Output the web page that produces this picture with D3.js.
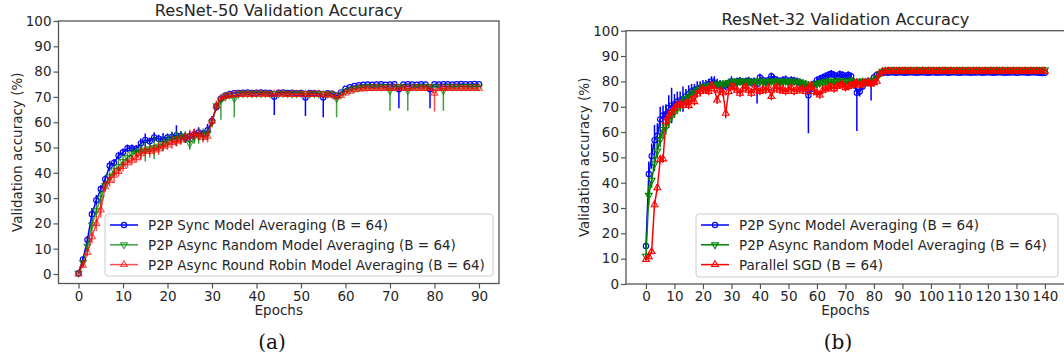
<!DOCTYPE html>
<html>
<head>
<meta charset="utf-8">
<script src="https://cdn.jsdelivr.net/npm/d3@7"></script>
<style>
  body { margin: 0; background: #fff; }
  svg { display: block; }
  text { font-family: "DejaVu Sans", sans-serif; fill: #262626; }
  text.caption { font-family: "DejaVu Serif", serif; fill: #111; }
</style>
</head>
<body>
<svg id="chart" width="1064" height="358"></svg>
<script>
// ---------- ResNet-50 (a) ----------
const xTicks50 = [0, 10, 20, 30, 40, 50, 60, 70, 80, 90];
const yTicks = [0, 10, 20, 30, 40, 50, 60, 70, 80, 90, 100];

const sync50 = [0.3, 5.8, 13.5, 23.6, 29.2, 33.6, 37.5, 42.8, 44, 46.8,
  48.1, 49.7, 49.7, 49.5, 51.6, 53, 52.5, 54, 53.5, 53.2,
  54, 54.2, 54.8, 54.5, 53.8, 54.5, 55.2, 56, 55.5, 56.8,
  60.5, 66, 69.3, 70.6, 71.2, 71.5, 71.6, 71.7, 71.8, 71.6,
  71.7, 71.8, 71.7, 71.6, 70.1, 71.7, 71.8, 71.6, 71.7, 71.5,
  71.6, 69.8, 71.6, 71.5, 71.4, 69.8, 71.5, 71.3, 70.5, 71.8,
  73.2, 73.8, 74.3, 74.6, 74.8, 74.9, 74.8, 74.9, 75, 74.8,
  74.9, 75, 73, 74.9, 75, 74.9, 74.8, 75, 74.9, 73,
  75, 74.9, 75, 75, 74.9, 75, 75.1, 75, 75, 75.1,
  75];
const green50 = [0.3, 4.5, 11, 19.5, 25, 30, 35, 38.5, 41, 42.5,
  44.5, 46, 47.5, 48, 48.5, 49, 49.5, 50, 50.5, 51.5,
  52.5, 53.5, 53.5, 54, 54.5, 51.6, 54, 54.5, 55, 55.5,
  60, 66.5, 68.8, 70, 70.8, 69.4, 71.2, 71.3, 71.4, 71.3,
  71.4, 71.3, 71.4, 71.3, 71.2, 71.3, 71.4, 71.3, 71.2, 71.3,
  71.4, 71.3, 71.2, 71.3, 71.2, 71.1, 71.2, 71.0, 69.4, 71,
  72.2, 72.8, 73.3, 73.7, 73.9, 74, 74, 74.1, 74, 74.1,
  72.5, 74, 74.1, 74, 72.5, 74.1, 74, 74.1, 74, 74.1,
  74, 74, 72.5, 74.1, 74, 74.1, 74, 74.1, 74, 74.1,
  74];
const red50 = [0, 3.5, 8.5, 14.7, 20, 25.3, 34.5, 37, 39, 40.5,
  42.5, 44, 45, 46, 47.5, 48.5, 48.5, 49, 49.5, 50.5,
  51, 52, 52.5, 53, 54, 54.5, 55.5, 55, 54, 54.5,
  60.5, 66.5, 69.5, 70.2, 70.6, 70.8, 71, 71.1, 71.1, 71,
  71.1, 71.2, 71.1, 71, 71.1, 71.2, 71.1, 71, 71.1, 71,
  71.1, 71, 71, 71.1, 71, 70.9, 70.8, 70.8, 70, 70.6,
  71.5, 72.2, 72.8, 73.1, 73.2, 73.3, 73.3, 73.4, 73.3, 73.4,
  73.3, 73.4, 73.3, 73.4, 73.3, 73.4, 73.3, 73.4, 73.3, 73.4,
  71.4, 73.3, 73.4, 73.3, 73.4, 73.3, 73.4, 73.3, 73.4, 73.3,
  73.4];

// half-width of the error bars (later epochs are too tight to show)
const syncErr50 = [0.3, 1, 1.5, 2.5, 2, 1.5, 1.5, 2, 1.5, 1.5, 1.5, 1.5, 1.5, 1.5, 2, 2.5, 1.5, 2,
  1.5, 2.5, 1.5, 2, 4, 2, 2, 2, 2, 2, 1.5, 2.5, 2, 1.5, 1, 0.8];
const greenErr50 = [0.3, 1, 2, 2.5, 2.5, 3, 2, 2, 2.5, 3, 2.5, 2, 2.5, 2, 3, 4.5, 2.5, 4.5,
  2.5, 3, 2.5, 2.5, 3, 2.5, 2, 2.5, 2.5, 3, 2.5, 2.5, 2, 1.5, 1, 0.8];
const redErr50 = [0.3, 1, 1.5, 2.5, 3, 3, 2, 2.5, 3, 2, 2, 2, 2, 2, 2.5, 2, 2.5, 2,
  2.5, 2, 2, 2.5, 2, 2, 2, 2.5, 2, 2, 2, 2.5, 2, 2, 1, 0.8];

// [epoch, lowest run] where one run dropped
const syncDips50 = [[44, 62.8], [51, 62.5], [55, 62], [72, 65.5], [79, 65.5]];
const greenDips50 = [[32, 61], [35, 62], [58, 62], [70, 64.5], [74, 64.5], [82, 64.5]];
const redDips50 = [[80, 64.2]];

const labels50 = ['P2P Sync Model Averaging (B = 64)',
  'P2P Async Random Model Averaging (B = 64)',
  'P2P Async Round Robin Model Averaging (B = 64)'];

// ---------- ResNet-32 (b) ----------
const xTicks32 = [0, 10, 20, 30, 40, 50, 60, 70, 80, 90, 100, 110, 120, 130, 140];

const sync32 = [15, 43.4, 50.5, 56.8, 58.5, 65, 66.5, 67, 69.5, 70.5,
  71, 72, 72.5, 73, 74, 75, 76, 76.5, 77, 77.5,
  78, 78.5, 79, 80, 79.5, 79, 78.5, 78, 78.5, 79,
  80, 79.5, 80, 80.2, 79.8, 80, 80.3, 79.5, 80, 79,
  81.5, 80.5, 80, 80.5, 82, 81, 80.5, 80, 80.5, 80.8,
  80, 80.5, 80.3, 80, 79.5, 79, 77.5, 74.5, 77, 79,
  80.5, 81, 81.5, 82, 82.5, 83, 82.5, 82, 82.8, 82.5,
  82, 82.5, 82, 79, 75.5, 76, 78, 79.5, 80, 79.5,
  81.5, 82.5, 83, 83.3, 83.5, 83.4, 83.6, 83.5, 83.4, 83.6,
  83.5, 83.4, 83.5, 83.6, 83.5, 83.4, 83.5, 83.6, 83.5, 83.4,
  83.5, 83.6, 83.4, 83.5, 83.5, 83.6, 83.4, 83.5, 83.6, 83.5,
  83.4, 83.5, 83.6, 83.5, 83.4, 83.5, 83.5, 83.6, 83.4, 83.5,
  83.6, 83.5, 83.4, 83.5, 83.6, 83.5, 83.4, 83.5, 83.5, 83.6,
  83.4, 83.5, 83.6, 83.5, 83.4, 83.5, 83.6, 83.5, 83.4, 83.3,
  83.4];
const green32 = [11, 35, 41, 47.5, 52.5, 57, 61, 62, 64.5, 66.5,
  68, 69.5, 70.5, 72, 73, 74, 75, 75.5, 76.5, 77,
  77.5, 78, 78, 78.5, 78.5, 79, 78.5, 79, 79, 79.5,
  79.5, 79.8, 79.5, 80, 79.7, 79.5, 80, 79.8, 79.5, 80,
  79.8, 80, 79.5, 79.8, 80, 79.7, 80, 79.5, 79.8, 80,
  79.6, 79.8, 80, 79.5, 79.7, 79.2, 79, 78.5, 78, 78.5,
  79, 79.3, 79.5, 79.8, 80, 79.7, 80, 79.8, 80.2, 80,
  79.8, 80, 80.2, 79.8, 79.5, 79.8, 80, 79.5, 79.8, 80,
  80.5, 81.5, 83, 84, 84.4, 84.5, 84.6, 84.5, 84.6, 84.5,
  84.6, 84.5, 84.6, 84.7, 84.5, 84.6, 84.5, 84.6, 84.5, 84.6,
  84.7, 84.5, 84.6, 84.5, 84.6, 84.5, 84.7, 84.6, 84.5, 84.6,
  84.5, 84.6, 84.5, 84.7, 84.6, 84.5, 84.6, 84.5, 84.6, 84.5,
  84.6, 84.7, 84.5, 84.6, 84.5, 84.6, 84.5, 84.6, 84.7, 84.5,
  84.6, 84.5, 84.6, 84.5, 84.6, 84.5, 84.7, 84.6, 84.5, 84.6,
  84.5];
const sgd32 = [9.7, 10.8, 12.8, 31.3, 38, 49.2, 49.4, 64.3, 66.5, 68,
  69.5, 70.7, 71, 70.5, 71.5, 70.5, 73, 72, 75, 76,
  77, 76.5, 76, 78.5, 77, 72.6, 76.5, 75.5, 67.4, 76,
  78, 77.5, 76.5, 75.3, 77, 78, 76.5, 75.3, 77.5, 76.5,
  76, 77, 76.5, 77.5, 74, 77, 78, 76.5, 77, 76,
  76.6, 77.5, 76, 77, 76.6, 77, 76, 77.5, 78.5, 76,
  75.5, 74.6, 76.5, 77, 77.4, 78, 77, 78, 78.5, 78.8,
  77.5, 78, 78.5, 79, 79.5, 78.5, 79, 79.5, 79.8, 79,
  79.5, 80, 83, 83.8, 84, 84.1, 84, 84.1, 84, 84.1,
  84, 84.1, 84, 84.1, 84, 84.1, 84, 84.1, 84, 84.1,
  84, 84.1, 84, 84.1, 84, 84.1, 84, 84.1, 84, 84.1,
  84, 84.1, 84, 84.1, 84, 84.1, 84, 84.1, 84, 84.1,
  84, 84.1, 84, 84.1, 84, 84.1, 84, 84.1, 84, 84.1,
  84, 84.1, 84, 84.1, 84, 84.1, 84, 84.1, 84, 84.1,
  84];

const syncErr32 = [1, 5, 5, 6, 5, 5, 4, 4, 5, 7,
  4, 4, 3.5, 5, 3, 3.5, 3, 2.5, 3, 2.5,
  2.5, 2, 2, 2, 2.5, 2, 2, 2, 2, 2,
  2, 1.5, 1.5, 1.5, 1.5, 1.5, 1.5, 1.5, 1.5, 1.5,
  1.5, 1.5, 1.5, 1.5, 1.5, 1.5, 1.5, 1.5, 1.5, 1.5,
  1.5, 1.5, 1.5, 1.5, 1.5, 1.5, 2, 2, 2, 1.5,
  1.5, 1.5, 1.5, 1.5, 1.5, 1.5, 1.5, 1.5, 1.5, 1.5,
  1.5, 1.5, 1.5, 2, 2, 2, 1.5, 1.5, 1.5, 1.5,
  1.5, 1, 1];
const greenErr32 = [1, 4, 3, 3, 3, 3, 3, 3, 3, 2.5,
  2.5, 2.5, 2.5, 2, 2, 2, 2, 2, 2, 2,
  2, 2, 1.5, 1.5, 1.5, 1.5, 1.5, 1.5, 1.5, 1.5,
  1.5, 1.5, 1.5, 1.5, 1.5, 1.5, 1.5, 1.5, 1.5, 1.5,
  1.5, 1.5, 1.5, 1.5, 1.5, 1.5, 1.5, 1.5, 1.5, 1.5,
  1.5, 1.5, 1.5, 1.5, 1.5, 1.5, 1.5, 1.5, 1.5, 1.5,
  1.5, 1.5, 1.5, 1.5, 1.5, 1.5, 1.5, 1.5, 1.5, 1.5,
  1.5, 1.5, 1.5, 1.5, 1.5, 1.5, 1.5, 1.5, 1.5, 1.5,
  1.5, 1, 1];
const sgdErr32 = [0.5, 0.8, 1, 1.5, 1.5, 1.5, 1.5, 2, 2, 1.5,
  1.5, 1.5, 1.5, 1.5, 1.5, 1.5, 1.5, 1.5, 1.5, 1.5,
  1.5, 1.5, 1.5, 1.5, 1.5, 1.5, 1.5, 1.5, 2, 1.5,
  1.5, 1.5, 1.5, 1.5, 1.5, 1.5, 1.5, 1.5, 1.5, 1.5,
  1.5, 1.5, 1.5, 1.5, 1.5, 1.5, 1.5, 1.5, 1.5, 1.5,
  1.5, 1.5, 1.5, 1.5, 1.5, 1.5, 1.5, 1.5, 1.5, 1.5,
  1.5, 1.5, 1.5, 1.5, 1.5, 1.5, 1.5, 1.5, 1.5, 1.5,
  1.5, 1.5, 1.5, 1.5, 1.5, 1.5, 1.5, 1.5, 1.5, 1.5,
  1.5, 1, 1];

const syncDips32 = [[39, 71.3], [57, 59.5], [74, 60.4], [79, 72.4]];

const labels32 = ['P2P Sync Model Averaging (B = 64)',
  'P2P Async Random Model Averaging (B = 64)',
  'Parallel SGD (B = 64)'];

// ---------- drawing ----------
const svg = d3.select('#chart');
const BLUE = '#0000ff', GREEN = '#008000', RED = '#ff0000';

function markerPath(kind) {
    if (kind === 'circle') return d3.symbol().type(d3.symbolCircle).size(22)();
    return d3.symbol().type(d3.symbolTriangle).size(20)();
}

function drawMarker(g, kind, cx, cy, color, alpha) {
    let rot = kind === 'down' ? 180 : 0;
    g.append('path')
        .attr('d', markerPath(kind))
        .attr('transform', `translate(${cx},${cy}) rotate(${rot})`)
        .attr('fill', 'none')
        .attr('stroke', color)
        .attr('stroke-opacity', alpha)
        .attr('stroke-width', 1.1);
}

function drawPanel(p) {
    let x = d3.scaleLinear().domain(p.xDomain).range([p.left, p.right]);
    let y = d3.scaleLinear().domain(p.yDomain).range([p.bottom, p.top]);
    let g = svg.append('g');

    g.append('clipPath').attr('id', 'clip-' + p.id)
        .append('rect')
        .attr('x', p.left).attr('y', p.top)
        .attr('width', p.right - p.left).attr('height', p.bottom - p.top);

    let plot = g.append('g').attr('clip-path', `url(#clip-${p.id})`);

    let line = d3.line()
        .x(function(d, i) { return x(i); })
        .y(function(d) { return y(d); });

    p.series.forEach(function(s) {
        let sg = plot.append('g');
        let dips = new Map(s.dips);

        // error bars
        s.values.forEach(function(v, i) {
            let e = s.err[i] || 0;
            let lo = v - e, hi = v + e;
            if (dips.has(i)) lo = Math.min(lo, dips.get(i));
            if (hi - lo < 0.3) return;
            sg.append('line')
                .attr('x1', x(i)).attr('x2', x(i))
                .attr('y1', y(lo)).attr('y2', y(hi))
                .attr('stroke', s.color)
                .attr('stroke-opacity', s.alpha)
                .attr('stroke-width', 1.5);
        });

        sg.append('path')
            .attr('d', line(s.values))
            .attr('fill', 'none')
            .attr('stroke', s.color)
            .attr('stroke-opacity', s.alpha)
            .attr('stroke-width', 1.5);

        s.values.forEach(function(v, i) {
            drawMarker(sg, s.marker, x(i), y(v), s.color, s.alpha);
        });
    });

    // axes
    let xAxis = d3.axisBottom(x).tickValues(p.xTicks).tickSize(5).tickPadding(2.5);
    let yAxis = d3.axisLeft(y).tickValues(yTicks).tickSize(5).tickPadding(2);

    let gx = g.append('g').attr('transform', `translate(0,${p.bottom})`).call(xAxis);
    let gy = g.append('g').attr('transform', `translate(${p.left},0)`).call(yAxis);
    [gx, gy].forEach(function(a) {
        a.select('.domain').remove();
        a.selectAll('line').attr('stroke', '#555').attr('stroke-width', 1.2);
        a.selectAll('text')
            .attr('font-family', '"DejaVu Sans", sans-serif')
            .attr('font-size', '13.5px')
            .attr('fill', '#262626');
    });

    g.append('rect')
        .attr('x', p.left).attr('y', p.top)
        .attr('width', p.right - p.left).attr('height', p.bottom - p.top)
        .attr('fill', 'none')
        .attr('stroke', '#555')
        .attr('stroke-width', 1.3);

    // titles and labels
    let cx = (p.left + p.right) / 2;
    g.append('text')
        .attr('x', cx).attr('y', p.titleY)
        .attr('text-anchor', 'middle')
        .attr('font-size', '16.2px')
        .text(p.title);

    g.append('text')
        .attr('x', cx).attr('y', 315)
        .attr('text-anchor', 'middle')
        .attr('font-size', '13.5px')
        .text('Epochs');

    g.append('text')
        .attr('transform', `translate(${p.ylabelX},${(p.top + p.bottom) / 2}) rotate(-90)`)
        .attr('text-anchor', 'middle')
        .attr('font-size', '13.5px')
        .text('Validation accuracy (%)');

    g.append('text')
        .attr('class', 'caption')
        .attr('x', p.captionX).attr('y', 349)
        .attr('text-anchor', 'middle')
        .attr('font-size', '20px')
        .text(p.caption);

    // legend
    let lg = p.legend;
    g.append('rect')
        .attr('x', lg.x).attr('y', lg.y)
        .attr('width', lg.w).attr('height', lg.h)
        .attr('rx', 3)
        .attr('fill', '#fff').attr('fill-opacity', 0.8)
        .attr('stroke', '#cccccc').attr('stroke-width', 1);

    p.series.forEach(function(s, i) {
        let ry = lg.y + 11 + i * 19.8;
        g.append('line')
            .attr('x1', lg.x + 5).attr('x2', lg.x + 33)
            .attr('y1', ry).attr('y2', ry)
            .attr('stroke', s.color)
            .attr('stroke-opacity', s.alpha)
            .attr('stroke-width', 1.5);
        drawMarker(g, s.marker, lg.x + 19, ry, s.color, s.alpha);
        g.append('text')
            .attr('x', lg.x + 43).attr('y', ry + 5)
            .attr('font-size', '13.5px')
            .text(s.label);
    });
}

drawPanel({
    id: 'a',
    left: 58.5, right: 499, top: 21, bottom: 283.5,
    xDomain: [-4.5, 94.5], yDomain: [-3.75, 100],
    xTicks: xTicks50,
    title: 'ResNet-50 Validation Accuracy', titleY: 16,
    ylabelX: 22, caption: '(a)', captionX: 272,
    legend: { x: 105, y: 214, w: 388, h: 62 },
    series: [
        { values: sync50, err: syncErr50, dips: syncDips50, color: BLUE, alpha: 1, marker: 'circle', label: labels50[0] },
        { values: green50, err: greenErr50, dips: greenDips50, color: GREEN, alpha: 0.75, marker: 'down', label: labels50[1] },
        { values: red50, err: redErr50, dips: redDips50, color: RED, alpha: 0.7, marker: 'up', label: labels50[2] }
    ]
});

drawPanel({
    id: 'b',
    left: 626, right: 1064.9, top: 30.7, bottom: 284,
    xDomain: [-7, 147], yDomain: [0, 100],
    xTicks: xTicks32,
    title: 'ResNet-32 Validation Accuracy', titleY: 25,
    ylabelX: 589, caption: '(b)', captionX: 838,
    legend: { x: 696, y: 214, w: 362, h: 63 },
    series: [
        { values: sync32, err: syncErr32, dips: syncDips32, color: BLUE, alpha: 1, marker: 'circle', label: labels32[0] },
        { values: green32, err: greenErr32, dips: [], color: GREEN, alpha: 1, marker: 'down', label: labels32[1] },
        { values: sgd32, err: sgdErr32, dips: [], color: RED, alpha: 1, marker: 'up', label: labels32[2] }
    ]
});
</script>
</body>
</html>
